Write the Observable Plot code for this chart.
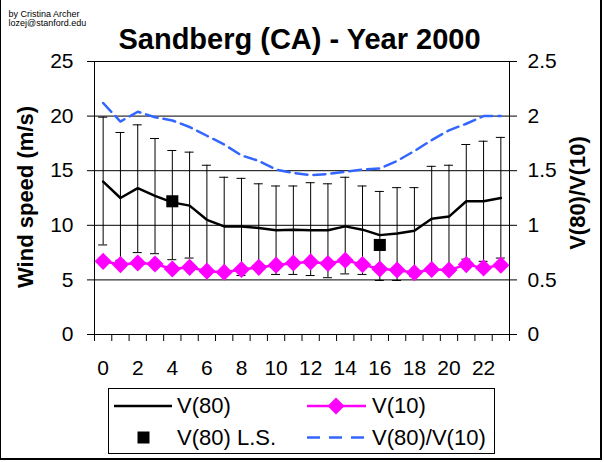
<!DOCTYPE html>
<html>
<head>
<meta charset="utf-8">
<script src="https://cdn.jsdelivr.net/npm/d3@7"></script>
<script src="https://cdn.jsdelivr.net/npm/@observablehq/plot@0.6"></script>
<style>
  html, body { margin: 0; padding: 0; background: white; }
  #wrap { position: relative; width: 604px; height: 462px; overflow: hidden; background: white; font-family: "Liberation Sans", Arial, sans-serif; }
  #wrap > svg { position: absolute; left: 0; top: 0; }
  #border { position: absolute; left: 0; top: 0; width: 602px; height: 460px; box-sizing: border-box;
            border-left: 1px solid black; border-right: 2px solid black; border-bottom: 2px solid black; pointer-events: none; }
  #legend { position: absolute; left: 108px; top: 388px; width: 387px; height: 66px; box-sizing: border-box;
            border: 1px solid black; background: white; }
  #legend svg { position: absolute; left: 0; top: 0; }
  .lt { position: absolute; font-size: 22px; line-height: 22px; white-space: nowrap; color: black; }
</style>
</head>
<body>
<div id="wrap">
  <div id="legend">
    <svg width="385" height="64">
      <line x1="5" x2="63" y1="17" y2="17" stroke="black" stroke-width="2.5"/>
      <line x1="198" x2="257" y1="17" y2="17" stroke="#FF00FF" stroke-width="2.5"/>
      <polygon points="227,8.5 235.5,17 227,25.5 218.5,17" fill="#FF00FF"/>
      <rect x="28.5" y="42.5" width="12" height="12" fill="black"/>
      <line x1="198" x2="257" y1="48.5" y2="48.5" stroke="#3366FF" stroke-width="2.5" stroke-dasharray="13,9"/>
    </svg>
    <div class="lt" style="left:68px; top:6px;">V(80)</div>
    <div class="lt" style="left:263px; top:6px;">V(10)</div>
    <div class="lt" style="left:68px; top:37.5px;">V(80) L.S.</div>
    <div class="lt" style="left:263px; top:37.5px;">V(80)/V(10)</div>
  </div>
  <div id="border"></div>
</div>
<script>
// ---- data ----
const hours = d3.range(0, 24);
const v80 = [14.0, 12.5, 13.4, 12.7, 12.1, 11.8, 10.5, 9.9, 9.9, 9.75, 9.55, 9.6,
             9.55, 9.55, 9.9, 9.6, 9.1, 9.25, 9.5, 10.6, 10.8, 12.2, 12.2, 12.5];
const v80Top = [19.9, 18.5, 19.2, 17.95, 16.85, 16.7, 15.5, 14.4, 14.3, 13.8, 13.6, 13.6,
                13.9, 13.8, 14.4, 13.6, 13.1, 13.45, 13.45, 15.4, 15.5, 17.4, 17.7, 18.05];
const v80Bottom = [8.2, 6.8, 7.5, 7.4, 6.85, 7.0, 5.8, 5.5, 5.4, 6.0, 5.5, 5.5,
                   5.4, 5.2, 5.55, 5.5, 4.95, 4.95, 5.3, 5.8, 6.0, 6.9, 6.7, 7.0];
const v10 = [6.7, 6.4, 6.55, 6.45, 6.0, 6.15, 5.8, 5.7, 5.95, 6.15, 6.35, 6.55,
             6.65, 6.5, 6.8, 6.4, 6.0, 5.9, 5.65, 5.95, 5.9, 6.4, 6.1, 6.35];
const ratio = [2.12, 1.95, 2.04, 1.99, 1.96, 1.90, 1.82, 1.74, 1.64, 1.59, 1.51, 1.48,
               1.46, 1.47, 1.49, 1.51, 1.52, 1.59, 1.68, 1.78, 1.87, 1.93, 2.0, 2.0];
const lsHours = [4, 16];
const lsValues = [12.2, 8.2];
const speedTicks = [0, 5, 10, 15, 20, 25];
const ratioTicks = [0, 0.5, 1, 1.5, 2, 2.5];
const hourLabels = [0, 2, 4, 6, 8, 10, 12, 14, 16, 18, 20, 22];
const RATIO_FACTOR = 10; // right axis 0–2.5 maps onto left axis 0–25

const rows = hours.map((h, i) => ({h, v80: v80[i], top: v80Top[i], bot: v80Bottom[i], v10: v10[i], ratio: ratio[i]}));
const ls = lsHours.map((h, i) => ({h, v: lsValues[i]}));
const boundaries = d3.range(-0.5, 24, 1);

const font = "Liberation Sans, Arial, sans-serif";

const chart = Plot.plot({
  width: 604,
  height: 380,
  marginLeft: 94,
  marginRight: 95,
  marginTop: 61,
  marginBottom: 46,
  x: {domain: [-0.5, 23.5], label: null},
  y: {domain: [0, 25], label: null},
  style: {fontFamily: font, fontSize: "21px", background: "transparent", color: "black", overflow: "visible"},
  marks: [
    Plot.gridY(speedTicks, {stroke: "black", strokeOpacity: 1, strokeWidth: 1}),
    Plot.frame({stroke: "black", strokeWidth: 1}),
    Plot.axisY({anchor: "left", ticks: speedTicks, tickSize: 7, tickPadding: 14, fontSize: 21, label: null}),
    Plot.axisY({anchor: "right", ticks: ratioTicks.map(t => t * RATIO_FACTOR), tickFormat: d => String(+(d / RATIO_FACTOR).toFixed(1)),
                tickSize: 7, tickPadding: 11, fontSize: 21, label: null}),
    Plot.axisX({ticks: boundaries, tickSize: 7, tickFormat: () => "", label: null}),
    Plot.axisX({ticks: hourLabels, tickSize: 0, tickPadding: 26, fontSize: 21, label: null}),
    // error bars
    Plot.ruleX(rows, {x: "h", y1: "bot", y2: "top", stroke: "black", strokeWidth: 1}),
    Plot.ruleY(rows, {y: "top", x1: "h", x2: "h", insetLeft: -4.5, insetRight: -4.5, stroke: "black", strokeWidth: 1}),
    Plot.ruleY(rows, {y: "bot", x1: "h", x2: "h", insetLeft: -4.5, insetRight: -4.5, stroke: "black", strokeWidth: 1}),
    // V(80)
    Plot.line(rows, {x: "h", y: "v80", stroke: "black", strokeWidth: 2.5}),
    // V(10)
    Plot.line(rows, {x: "h", y: "v10", stroke: "#FF00FF", strokeWidth: 2.5}),
    Plot.dot(rows, {x: "h", y: "v10", symbol: "diamond2", r: 7.7, fill: "#FF00FF", stroke: "none"}),
    // ratio
    Plot.line(rows, {x: "h", y: d => d.ratio * RATIO_FACTOR, stroke: "#3366FF", strokeWidth: 2.5, strokeDasharray: "12,6"}),
    // V(80) L.S.
    Plot.dot(ls, {x: "h", y: "v", symbol: "square", r: 6.8, fill: "black", stroke: "none"}),
    // titles and axis labels
    Plot.text(["Sandberg (CA) - Year 2000"], {text: d => d, frameAnchor: "top", dx: -2.5, dy: -33, fontSize: 29, fontWeight: "bold"}),
    Plot.text(["by Cristina Archer\nlozej@stanford.edu"], {text: d => d, frameAnchor: "top-left", textAnchor: "start", lineAnchor: "top",
               lineHeight: 1.1, dx: -86, dy: -52, fontSize: 9}),
    Plot.text(["Wind speed (m/s)"], {text: d => d, frameAnchor: "left", textAnchor: "middle", rotate: -90, dx: -69, dy: -1, fontSize: 22, fontWeight: "bold"}),
    Plot.text(["V(80)/V(10)"], {text: d => d, frameAnchor: "right", textAnchor: "middle", rotate: -90, dx: 68, dy: -5, fontSize: 22, fontWeight: "bold"})
  ]
});

const wrap = document.getElementById("wrap");
wrap.insertBefore(chart, wrap.firstChild);
</script>
</body>
</html>
